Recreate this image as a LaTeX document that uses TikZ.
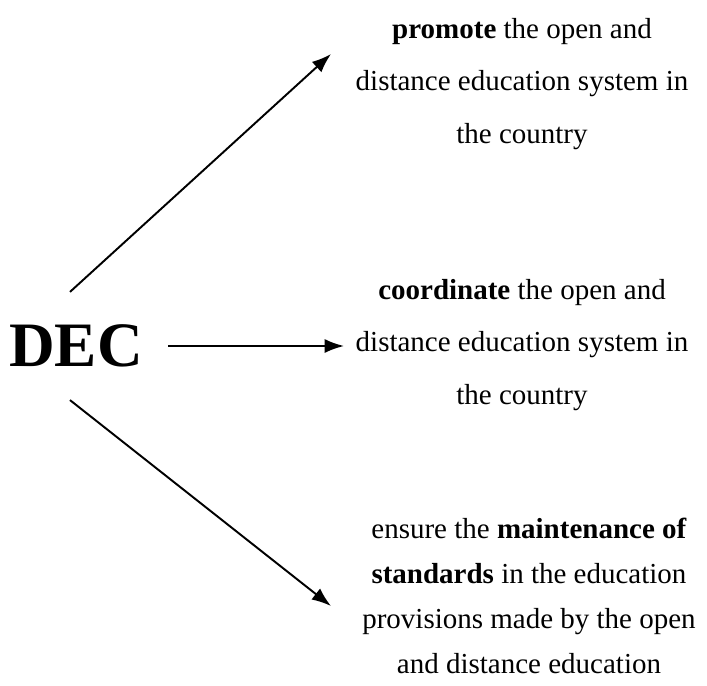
\documentclass[tikz,border=0pt]{standalone}
\usepackage{fontspec}
\setmainfont{Liberation Serif}
\usetikzlibrary{arrows.meta}

\begin{document}
\begin{tikzpicture}
  \useasboundingbox (0, 0) rectangle (14.14, -13.7);

  \node[font=\fontsize{36}{40}\selectfont\bfseries, inner sep=0]
    (dec) at (1.52, -6.92) {DEC};

  \node[align=center, font=\fontsize{16.5}{30}\selectfont]
    (promote) at (10.44, -1.68) {\textbf{promote} the open and\\distance education system in\\the country};

  \node[align=center, font=\fontsize{16.5}{30}\selectfont]
    (coord) at (10.44, -6.9) {\textbf{coordinate} the open and\\distance education system in\\the country};

  \node[align=center, font=\fontsize{16.5}{25.5}\selectfont]
    (ensure) at (10.58, -11.92) {ensure the \textbf{maintenance of}\\\textbf{standards} in the education\\provisions made by the open\\and distance education};

  \coordinate (T1) at (6.62, -1.08);
  \coordinate (T2) at (6.88, -6.92);
  \coordinate (T3) at (6.62, -12.12);

  \draw[-{Latex[length=11pt, width=8pt]}, line width=1.1pt]
    ([xshift=-0.12cm, yshift=0.65cm]dec.north) -- (T1);

  \draw[-{Latex[length=11pt, width=8pt]}, line width=1.1pt]
    ([xshift=0.5cm]dec.east) -- (T2);

  \draw[-{Latex[length=11pt, width=8pt]}, line width=1.1pt]
    ([xshift=-0.12cm, yshift=-0.65cm]dec.south) -- (T3);
\end{tikzpicture}
\end{document}
